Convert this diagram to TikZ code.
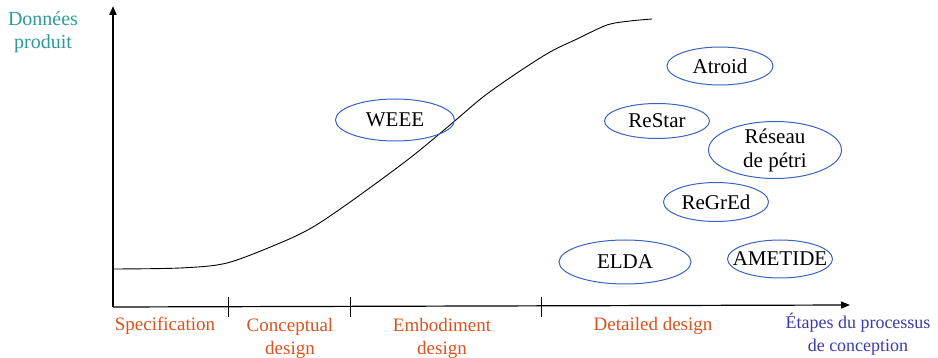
\documentclass[tikz,border=0pt]{standalone}
\usepackage{fontspec}
\setmainfont{Liberation Serif}
\usetikzlibrary{shapes.geometric,arrows.meta}
\definecolor{tealtxt}{HTML}{2E9A9A}
\definecolor{orangetxt}{HTML}{D9531E}
\definecolor{bluetxt}{HTML}{3B3BA8}
\definecolor{ellblue}{HTML}{3A62C0}
\tikzset{
  tool/.style={ellipse, draw=ellblue, line width=1pt, inner sep=0pt},
  tooltext/.style={align=center, inner sep=0pt, font=\fontsize{21}{24}\selectfont},
  stage/.style={text=orangetxt, font=\fontsize{19}{23}\selectfont, align=center, inner sep=0pt},
  axis/.style={-{Triangle[length=9pt,width=7pt]}, black},
  tick/.style={black, line width=0.8pt}
}
\begin{document}
\begin{tikzpicture}[x=1pt,y=-1pt]
\useasboundingbox (0,0) rectangle (938,358);
% axes
\coordinate (O) at (113,307);
\coordinate (Ytop) at (113,6);
\coordinate (Xend) at (850,305);
\draw[axis, line width=2pt] (O) -- (Ytop);
\draw[axis, line width=1.2pt] (O) -- (Xend);
% ticks
\coordinate (t1a) at (228,297); \coordinate (t1b) at (228,317);
\coordinate (t2a) at (350,297); \coordinate (t2b) at (350,317);
\coordinate (t3a) at (541,297); \coordinate (t3b) at (541,317);
\draw[tick] (t1a) -- (t1b);
\draw[tick] (t2a) -- (t2b);
\draw[tick] (t3a) -- (t3b);
% curve
\draw[black, line width=0.9pt] plot[smooth, tension=0.5] coordinates
  {(113,269) (180,268) (227,263) (280,243) (313,227) (353,200) (410,158) (450,125) (483,97) (517,73) (550,52) (577,39) (607,25) (630,21) (652,19)};
% tools
\node[tool, minimum width=119pt, minimum height=42pt, label={[tooltext]center:WEEE}] (weee) at (395,120) {};
\node[tool, minimum width=106pt, minimum height=38pt, label={[tooltext]center:Atroid}] (atroid) at (720,66) {};
\node[tool, minimum width=105pt, minimum height=35pt, label={[tooltext]center:ReStar}] (restar) at (657,121) {};
\node[tool, minimum width=133pt, minimum height=57pt, label={[tooltext]center:Réseau\\de pétri}] (reseau) at (775,150) {};
\node[tool, minimum width=105pt, minimum height=39pt, label={[tooltext]center:ReGrEd}] (regred) at (716,202) {};
\node[tool, minimum width=132pt, minimum height=44pt, label={[tooltext]center:ELDA}] (elda) at (625,262) {};
\node[tool, minimum width=105pt, minimum height=38pt, label={[tooltext]center:AMETIDE}] (ametide) at (780,259) {};
% labels
\node[text=tealtxt, font=\fontsize{20}{23}\selectfont, align=center, inner sep=0pt] (donnees) at (43,32) {Données\\produit};
\node[stage] (spec) at (165,326) {Specification};
\node[stage] (concept) at (290,338) {Conceptual\\design};
\node[stage] (embod) at (442,338) {Embodiment\\design};
\node[stage] (detail) at (653,326) {Detailed design};
\node[text=bluetxt, font=\fontsize{18}{23}\selectfont, align=center, inner sep=0pt] (etapes) at (858,334) {Étapes du processus\\de conception};
\end{tikzpicture}
\end{document}
